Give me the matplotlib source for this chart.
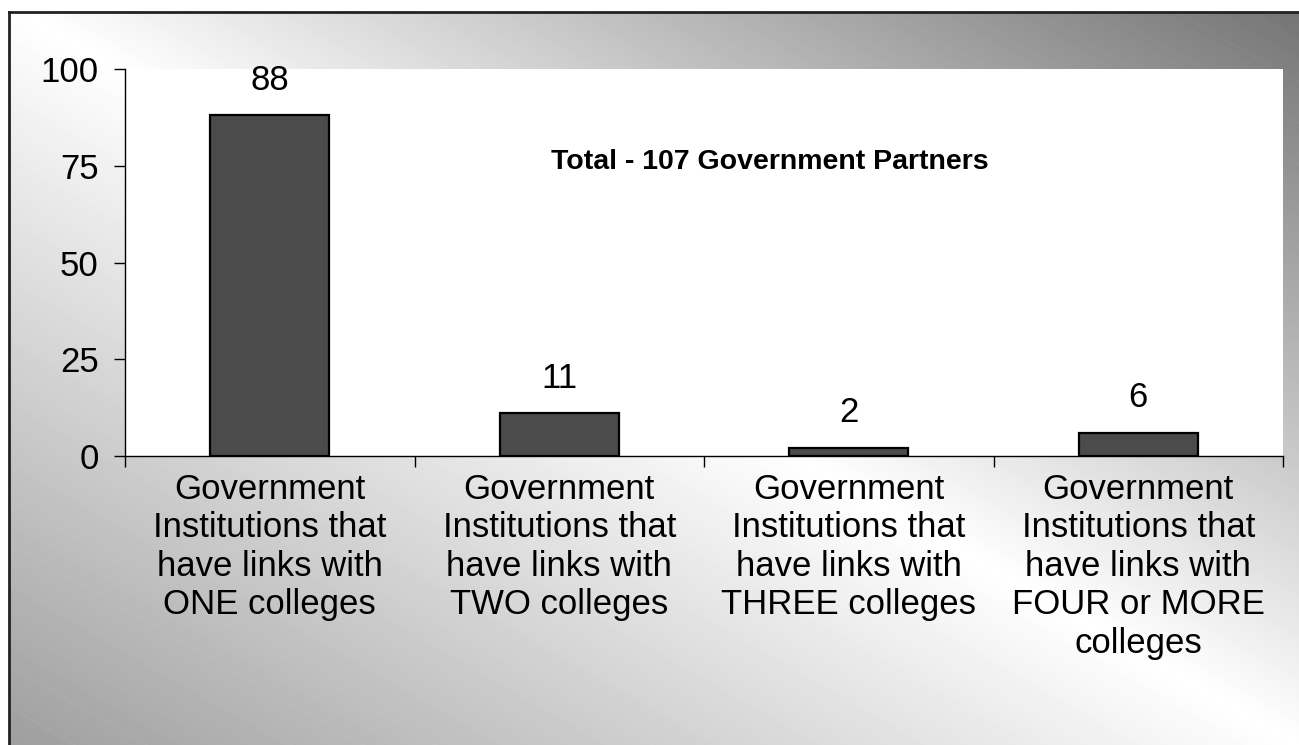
import numpy as np
import matplotlib.pyplot as plt
from matplotlib.patches import Rectangle

plt.rcParams['font.family'] = ['Liberation Sans', 'DejaVu Sans']

# data
categories = [
    "Government\nInstitutions that\nhave links with\nONE colleges",
    "Government\nInstitutions that\nhave links with\nTWO colleges",
    "Government\nInstitutions that\nhave links with\nTHREE colleges",
    "Government\nInstitutions that\nhave links with\nFOUR or MORE\ncolleges",
]
counts = [88, 11, 2, 6]
yticks = [0, 25, 50, 75, 100]
note = "Total - 107 Government Partners"

W, H = 1299, 745
fig = plt.figure(figsize=(W / 100, H / 100), dpi=100)
fig.patch.set_facecolor("white")

# diagonal grey gradient behind everything, light along the TL-BR diagonal
bg = fig.add_axes([0, 0, 1, 1], zorder=-10)
xx, yy = np.meshgrid(np.linspace(0, 1, W), np.linspace(0, 1, H))
t = xx - yy
shade = np.where(t > 0, 1 - 0.55 * t, 1 + 0.38 * t)
# faint banding lines running parallel to the gradient
band = (np.mod(t * 18, 1.0) < 0.05) * 0.012 * np.abs(t)
shade = np.clip(shade + band, 0, 1)
bg.imshow(shade, cmap="gray", vmin=0, vmax=1, aspect="auto",
          extent=[0, 1, 0, 1], origin="upper", interpolation="bilinear")
bg.set_xlim(0, 1)
bg.set_ylim(0, 1)
bg.axis("off")

# frame: white margin on top/left, black border line
x0, y0 = 8.5 / W, 1 - 11.5 / H
fig.add_artist(Rectangle((0, y0), 1, 1 - y0, transform=fig.transFigure,
                         facecolor="white", edgecolor="none", zorder=-5))
fig.add_artist(Rectangle((0, 0), x0, 1, transform=fig.transFigure,
                         facecolor="white", edgecolor="none", zorder=-5))
fig.add_artist(plt.Line2D([x0, 1], [y0, y0], transform=fig.transFigure,
                          color="#222222", lw=2, zorder=-4))
fig.add_artist(plt.Line2D([x0, x0], [0, y0], transform=fig.transFigure,
                          color="#222222", lw=2, zorder=-4))

left, right = 125 / W, 1283 / W
top, bottom = 1 - 69 / H, 1 - 456 / H
ax = fig.add_axes([left, bottom, right - left, top - bottom])
ax.set_facecolor("white")

x = np.arange(len(counts))
ax.bar(x, counts, width=0.41, color="#4b4b4b", edgecolor="black",
       linewidth=1.6, zorder=3)

for xi, v in zip(x, counts):
    ax.annotate(str(v), (xi, v), xytext=(0, 25.5), textcoords="offset points",
                ha="center", va="center", fontsize=25, color="black")

ax.text(0.557, 0.76, note, transform=ax.transAxes, ha="center", va="center",
        fontsize=20.5, fontweight="bold", color="black")

ax.set_xlim(-0.5, len(counts) - 0.5)
ax.set_ylim(0, 100)
ax.set_yticks(yticks)
ax.set_yticklabels([str(v) for v in yticks], fontsize=25)
ax.tick_params(axis="y", direction="out", length=8, width=1, pad=11,
               color="black")

ax.set_xticks(x)
ax.set_xticklabels(categories, fontsize=25, linespacing=1.21)
ax.set_xticks(np.arange(-0.5, len(counts)), minor=True)
ax.tick_params(axis="x", which="major", length=0, pad=12)
ax.tick_params(axis="x", which="minor", direction="out", length=8, width=1,
               color="black")

for side in ("top", "right"):
    ax.spines[side].set_visible(False)
for side in ("left", "bottom"):
    ax.spines[side].set_color("black")
    ax.spines[side].set_linewidth(1)

fig.savefig("out.png", dpi=100)
